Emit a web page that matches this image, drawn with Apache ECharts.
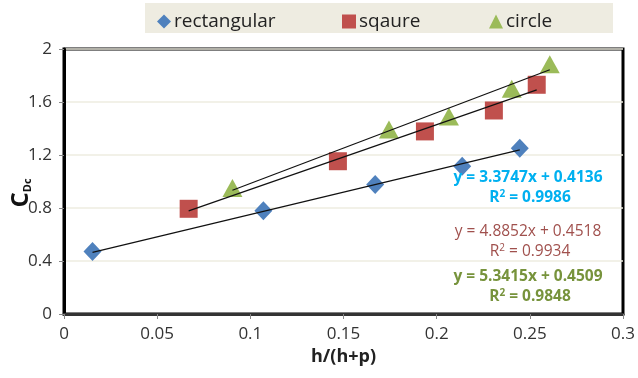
<!DOCTYPE html>
<html>
<head>
<meta charset="utf-8">
<script src="https://cdn.jsdelivr.net/npm/echarts@6/dist/echarts.min.js"></script>
<style>
  html, body { margin: 0; padding: 0; background: #fff; }
  #chart { width: 638px; height: 378px; }
</style>
</head>
<body>
<div id="chart"></div>
<script>
// data
const seriesNames = ['rectangular', 'sqaure', 'circle']
const rectX = [0.0153, 0.107, 0.167, 0.2137, 0.2446]
const rectY = [0.472, 0.779, 0.978, 1.116, 1.251]
const squareX = [0.0669, 0.147, 0.1937, 0.2307, 0.2537]
const squareY = [0.794, 1.153, 1.378, 1.536, 1.73]
const circleX = [0.0904, 0.1744, 0.2066, 0.2403, 0.2607]
const circleY = [0.951, 1.392, 1.49, 1.70, 1.885]
// linear fits as printed on the chart
const slopes = [3.3747, 4.8852, 5.3415]
const intercepts = [0.4136, 0.4518, 0.4509]
const rSquared = ['0.9986', '0.9934', '0.9848']

const colors = ['#4F81BD', '#C0504D', '#9BBB59']
const eqColors = ['#00B0F0', '#A0504D', '#77933C']
const symbols = ['diamond', 'rect', 'triangle']
const symbolSizes = [[18, 19], [18, 18], [20, 18]]
const font = '"Open Sans", "Noto Sans", sans-serif'

const xs = [rectX, squareX, circleX]
const ys = [rectY, squareY, circleY]

const chart = echarts.init(document.getElementById('chart'))

const scatterSeries = seriesNames.map((name, i) => ({
  name,
  type: 'scatter',
  symbol: symbols[i],
  symbolSize: symbolSizes[i],
  itemStyle: { color: colors[i], opacity: 1 },
  data: xs[i].map((x, j) => [x, ys[i][j]]),
  z: 3
}))

// trendlines from min x to max x of each series
const trendSeries = seriesNames.map((name, i) => {
  const lo = Math.min(...xs[i])
  const hi = Math.max(...xs[i])
  return {
    name: name + ' fit',
    type: 'line',
    symbol: 'none',
    silent: true,
    lineStyle: { color: '#111', width: 1.2 },
    data: [[lo, slopes[i] * lo + intercepts[i]], [hi, slopes[i] * hi + intercepts[i]]],
    z: 4
  }
})

const eqTop = [178, 232, 277]
const eqGraphics = []
seriesNames.forEach((name, i) => {
  const bold = i === 1 ? 'normal' : 'bold'
  eqGraphics.push({
    type: 'text', x: 528, y: eqTop[i], z: 10,
    style: {
      text: 'y = ' + slopes[i].toFixed(4) + 'x + ' + intercepts[i].toFixed(4),
      fill: eqColors[i], font: bold + ' 15.5px ' + font,
      align: 'center', verticalAlign: 'middle'
    }
  })
  eqGraphics.push({
    type: 'text', x: 530, y: eqTop[i] + 20, z: 10,
    style: {
      text: '{a|R}{s|2}{a| = ' + rSquared[i] + '}',
      align: 'center', verticalAlign: 'middle',
      rich: {
        a: { fill: eqColors[i], fontSize: 15.5, fontWeight: bold, fontFamily: font },
        s: { fill: eqColors[i], fontSize: 10, fontWeight: bold, fontFamily: font, verticalAlign: 'top', padding: [0, 0, 8, 0] }
      }
    }
  })
})

const legendLeft = [152, 337, 484]

chart.setOption({
  animation: false,
  grid: { left: 64, right: 15, top: 49, bottom: 64, show: true, borderColor: '#000', borderWidth: 3 },
  legend: seriesNames.map((name, i) => ({
    data: [{ name, icon: symbols[i] }],
    left: legendLeft[i], top: 7,
    itemWidth: 14, itemHeight: 14, itemGap: 5,
    textStyle: { fontSize: 19, color: '#222', fontFamily: font, padding: [0, 0, 0, -2] },
    selectedMode: false
  })),
  xAxis: {
    type: 'value', min: 0, max: 0.3, interval: 0.05,
    name: 'h/(h+p)', nameLocation: 'middle', nameGap: 34,
    nameTextStyle: { fontSize: 18, fontWeight: 'bold', color: '#222', fontFamily: font },
    axisLine: { show: true, lineStyle: { color: '#333', width: 3 } },
    axisTick: { show: true, length: 5, lineStyle: { color: '#888' } },
    axisLabel: { fontSize: 17, color: '#333', margin: 12, fontFamily: font },
    splitLine: { show: false }
  },
  yAxis: {
    type: 'value', min: 0, max: 2, interval: 0.4,
    axisLine: { show: true, lineStyle: { color: '#000', width: 3 } },
    axisTick: { show: true, length: 5, lineStyle: { color: '#888' } },
    axisLabel: { fontSize: 17, color: '#333', margin: 12, fontFamily: font,
      formatter: v => String(Math.round(v * 10) / 10) },
    splitLine: { show: true, lineStyle: { color: '#EEECE1', width: 1.5 } }
  },
  graphic: [
    { type: 'rect', left: 145, top: 3, z: -1,
      shape: { width: 468, height: 30 }, style: { fill: '#EEECE1' } },
    { type: 'text', x: 21, y: 193, rotation: Math.PI / 2,
      style: {
        text: '{c|C}{s|Dc}', align: 'center', verticalAlign: 'middle',
        rich: {
          c: { fontSize: 24, fontWeight: 'bold', fill: '#111', fontFamily: font },
          s: { fontSize: 11, fontWeight: 'bold', fill: '#111', fontFamily: font, verticalAlign: 'bottom' }
        }
      }
    },
    ...eqGraphics
  ],
  series: [...trendSeries, ...scatterSeries]
})
</script>
</body>
</html>
